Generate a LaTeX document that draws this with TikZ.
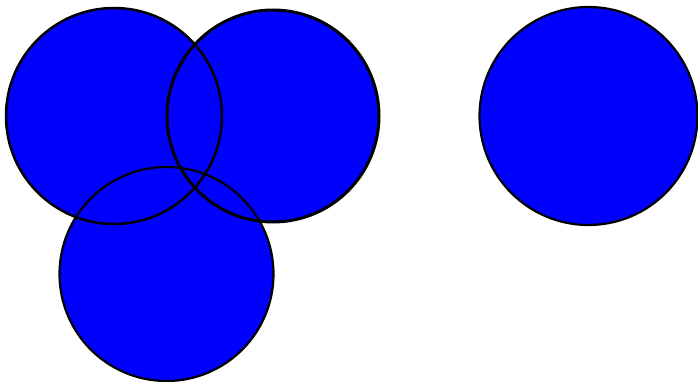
\documentclass[tikz,border=0pt]{standalone}
\begin{document}
\begin{tikzpicture}[x=1pt,y=-1pt,
  discfill/.style={fill={rgb,255:red,0;green,0;blue,255}},
  discline/.style={draw=black,line width=#1},
  discline/.default=2pt]
\useasboundingbox (0,0) rectangle (698,382);
% fills
\fill[discfill] (114,116) circle[radius=108];
\fill[discfill] (273,116) circle[radius=106];
\fill[discfill] (166.5,274) circle[radius=107];
\fill[discfill] (588.5,116) circle[radius=109];
% outlines
\draw[discline=2.5pt] (114,116) circle[radius=108];
\draw[discline=3pt] (273,116) circle[radius=106];
\draw[discline=2.2pt] (166.5,274) circle[radius=107];
\draw[discline=2.2pt] (588.5,116) circle[radius=109];
\end{tikzpicture}
\end{document}
